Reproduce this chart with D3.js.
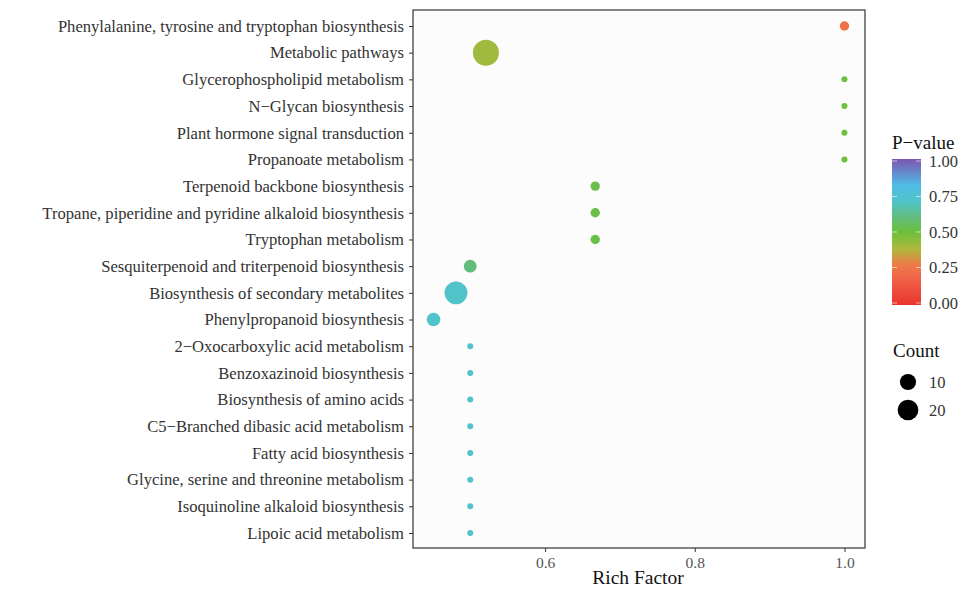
<!DOCTYPE html>
<html><head><meta charset="utf-8">
<script src="https://cdn.jsdelivr.net/npm/d3@7"></script>
<style>body{margin:0;background:#fff;} svg{display:block;font-family:"Liberation Serif","Times New Roman",serif;}</style>
</head><body>
<svg id="chart" width="967" height="590"></svg>
<script>
const categories = [
  "Phenylalanine, tyrosine and tryptophan biosynthesis",
  "Metabolic pathways",
  "Glycerophospholipid metabolism",
  "N\u2212Glycan biosynthesis",
  "Plant hormone signal transduction",
  "Propanoate metabolism",
  "Terpenoid backbone biosynthesis",
  "Tropane, piperidine and pyridine alkaloid biosynthesis",
  "Tryptophan metabolism",
  "Sesquiterpenoid and triterpenoid biosynthesis",
  "Biosynthesis of secondary metabolites",
  "Phenylpropanoid biosynthesis",
  "2\u2212Oxocarboxylic acid metabolism",
  "Benzoxazinoid biosynthesis",
  "Biosynthesis of amino acids",
  "C5\u2212Branched dibasic acid metabolism",
  "Fatty acid biosynthesis",
  "Glycine, serine and threonine metabolism",
  "Isoquinoline alkaloid biosynthesis",
  "Lipoic acid metabolism"
];
const richFactor = [1.0, 0.521, 1.0, 1.0, 1.0, 1.0, 0.667, 0.667, 0.667, 0.5, 0.481, 0.451, 0.5, 0.5, 0.5, 0.5, 0.5, 0.5, 0.5, 0.5];
const counts =     [2, 36, 1, 1, 1, 1, 2, 2, 2, 5, 26, 6, 1, 1, 1, 1, 1, 1, 1, 1];
const pValues =    [0.23, 0.41, 0.5, 0.5, 0.5, 0.5, 0.52, 0.52, 0.52, 0.6, 0.71, 0.72, 0.71, 0.71, 0.71, 0.71, 0.71, 0.71, 0.71, 0.71];
const xTicks = [0.6, 0.8, 1.0];
const pTicks = [0, 0.25, 0.5, 0.75, 1.0];
const countLegend = [10, 20];
const colorStops = [
  [0, "#E8342D"], [0.18, "#F1634A"], [0.28, "#EC7C48"], [0.38, "#B0B83C"],
  [0.5, "#6CC03C"], [0.6, "#62BC7C"], [0.7, "#52C4C6"], [0.82, "#4EBCE6"], [1.0, "#7D55AE"]
];

const svg = d3.select("#chart");
const L = 413, R = 865, T = 10, B = 548;

const xmin = d3.min(richFactor), xmax = d3.max(richFactor), pad = (xmax - xmin) * 0.05;
const x = d3.scaleLinear().domain([xmin - pad, xmax + pad]).range([L, R]);
const y = d3.scalePoint().domain(categories).range([26, 533]);
const color = d3.scaleLinear().domain(colorStops.map(d => d[0])).range(colorStops.map(d => d[1])).clamp(true);
const maxC = d3.max(counts), minC = d3.min(counts);
const tC = d3.scaleLinear().domain([minC, maxC]).range([0, 1]);
const rS = d3.scaleSqrt().domain([0, 1]).range([3, 13]);
const radius = c => rS(Math.max(0, tC(c)));

// panel
svg.append("rect").attr("x", L).attr("y", T).attr("width", R - L).attr("height", B - T)
  .attr("fill", "#FCFCFC").attr("stroke", "#333").attr("stroke-width", 1.2);

// y axis
const yAxis = svg.append("g").attr("transform", `translate(${L},0)`)
  .call(d3.axisLeft(y).tickSize(4).tickPadding(5));
yAxis.select(".domain").remove();
yAxis.selectAll("line").attr("stroke", "#333");
yAxis.selectAll("text").attr("font-size", 16.6).attr("fill", "#333").attr("font-family", "Liberation Serif");

// x axis
const xAxis = svg.append("g").attr("transform", `translate(0,${B})`)
  .call(d3.axisBottom(x).tickValues(xTicks).tickFormat(d3.format(".1f")).tickSize(4).tickPadding(5));
xAxis.select(".domain").remove();
xAxis.selectAll("line").attr("stroke", "#333");
xAxis.selectAll("text").attr("font-size", 15.5).attr("fill", "#555").attr("font-family", "Liberation Serif");

svg.append("text").attr("x", (L + R) / 2 - 1).attr("y", 584).attr("text-anchor", "middle")
  .attr("font-size", 19.5).attr("fill", "#111").text("Rich Factor");

// points
const data = categories.map((c, i) => ({c, rf: richFactor[i], n: counts[i], p: pValues[i]}));
svg.append("g").selectAll("circle").data(data).join("circle")
  .attr("cx", d => x(d.rf)).attr("cy", d => y(d.c)).attr("r", d => radius(d.n))
  .attr("fill", d => color(d.p));

// color legend
const defs = svg.append("defs");
const grad = defs.append("linearGradient").attr("id", "pg").attr("x1", 0).attr("y1", 1).attr("x2", 0).attr("y2", 0);
colorStops.forEach(s => grad.append("stop").attr("offset", s[0]).attr("stop-color", s[1]));
const cbTop = 161, cbBot = 303, cbL = 892, cbW = 29;
const py = d3.scaleLinear().domain([0, 1]).range([cbBot, cbTop]);
svg.append("text").attr("x", 892).attr("y", 149).attr("font-size", 19).attr("fill", "#111").text("P\u2212value");
svg.append("rect").attr("x", cbL).attr("y", cbTop - 2).attr("width", cbW).attr("height", cbBot - cbTop + 4).attr("fill", "url(#pg)");
const pg = svg.append("g");
pTicks.forEach(t => {
  pg.append("line").attr("x1", cbL).attr("x2", cbL + 5).attr("y1", py(t)).attr("y2", py(t)).attr("stroke", "#fff").attr("stroke-opacity", 0.6);
  pg.append("line").attr("x1", cbL + cbW - 5).attr("x2", cbL + cbW).attr("y1", py(t)).attr("y2", py(t)).attr("stroke", "#fff").attr("stroke-opacity", 0.6);
  pg.append("text").attr("x", 929).attr("y", py(t) + 5.5).attr("font-size", 16.5).attr("fill", "#333").text(d3.format(".2f")(t));
});

// size legend
svg.append("text").attr("x", 893).attr("y", 357).attr("font-size", 19).attr("fill", "#111").text("Count");
countLegend.forEach((c, i) => {
  const cy = 382 + i * 28;
  svg.append("circle").attr("cx", 908).attr("cy", cy).attr("r", radius(c)).attr("fill", "#000");
  svg.append("text").attr("x", 929).attr("y", cy + 5.5).attr("font-size", 16.5).attr("fill", "#333").text(c);
});
</script>
</body></html>
